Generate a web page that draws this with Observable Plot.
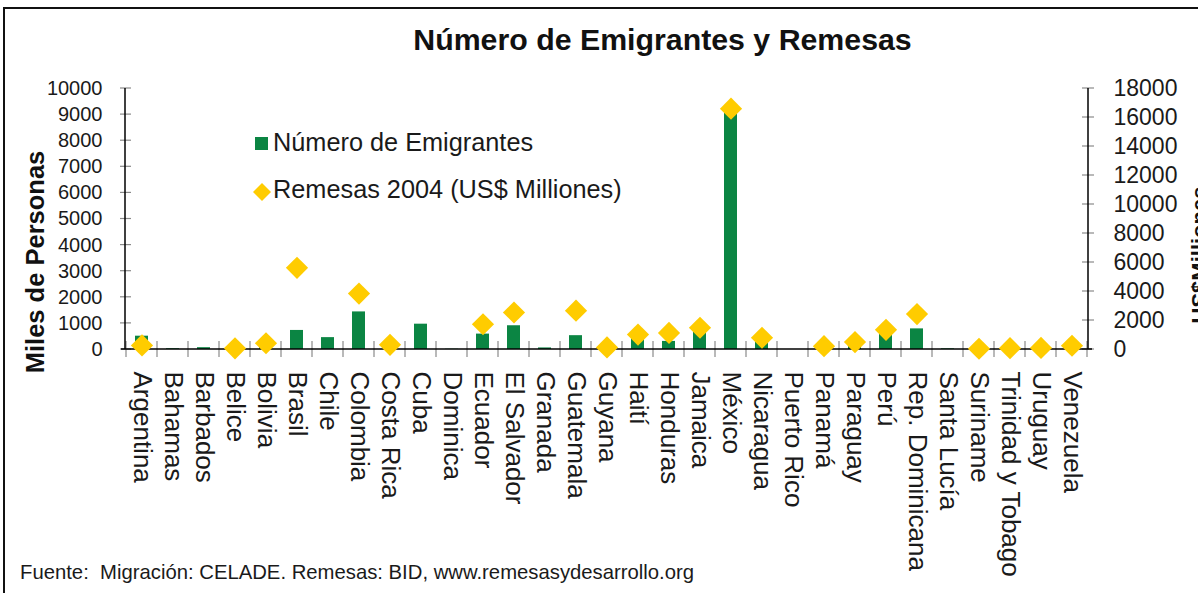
<!DOCTYPE html>
<html>
<head>
<meta charset="utf-8">
<script src="https://cdn.jsdelivr.net/npm/d3@7"></script>
<script src="https://cdn.jsdelivr.net/npm/@observablehq/plot@0.6"></script>
<style>
  html, body { margin: 0; padding: 0; background: #fff; }
  #wrap { position: relative; width: 1198px; height: 593px; overflow: hidden; background: #fff;
          font-family: "Liberation Sans", Arial, sans-serif; color: #1a1a1a; }
  #frame { position: absolute; left: 3px; top: 7px; width: 1400px; height: 800px;
           border-left: 2px solid #111; border-top: 2px solid #111; }
  #chart { position: absolute; left: 0; top: 0; }
  .abs { position: absolute; white-space: nowrap; line-height: 1; }
  #title { left: 0; width: 1325px; top: 25px; text-align: center; font-weight: bold; font-size: 30.3px; color: #111; }
  .leg { font-size: 25.3px; }
  .rot { position: absolute; width: 0; height: 0; }
  .rot span { position: absolute; left: 0; top: 0; white-space: nowrap; line-height: 1;
              transform: translate(-50%, -50%) rotate(-90deg); font-weight: bold; color: #111; }
  #caption { left: 20px; top: 562px; font-size: 20.3px; }
</style>
</head>
<body>
<div id="wrap">
  <div id="chart"></div>
  <div id="frame"></div>
  <div id="title" class="abs">Número de Emigrantes y Remesas</div>
  <div class="abs" style="left:255px;top:137px;width:13px;height:13px;background:#0b8543;"></div>
  <div class="abs leg" style="left:273px;top:130px;">Número de Emigrantes</div>
  <svg class="abs" style="left:251px;top:181px;" width="22" height="22"><path d="M11,2L20,11L11,20L2,11Z" fill="#ffcc00"/></svg>
  <div class="abs leg" style="left:273px;top:177px;">Remesas 2004 (US$ Milliones)</div>
  <div class="rot" style="left:36px;top:262px;"><span style="font-size:25.5px;">Miles de Personas</span></div>
  <div class="rot" style="left:1200px;top:255px;"><span style="font-size:22px;">US$Milliones</span></div>
  <div id="caption" class="abs">Fuente:&nbsp; Migración: CELADE. Remesas: BID, www.remesasydesarrollo.org</div>
</div>
<script>
// ---- data ----
const countries = ["Argentina","Bahamas","Barbados","Belice","Bolivia","Brasil","Chile","Colombia","Costa Rica","Cuba",
  "Dominica","Ecuador","El Salvador","Granada","Guatemala","Guyana","Haití","Honduras","Jamaica","México",
  "Nicaragua","Puerto Rico","Panamá","Paraguay","Perú","Rep. Dominicana","Santa Lucía","Suriname","Trinidad y Tobago","Uruguay","Venezuela"];
// Número de Emigrantes (miles de personas)
const emigrants = [510, 30, 70, 40, 350, 730, 455, 1440, 85, 970,
  10, 590, 910, 60, 530, 60, 530, 310, 680, 9200,
  480, null, 120, 360, 630, 790, 25, 40, 70, 100, 150];
// Remesas 2004 (US$ millones)
const remittances = [280, null, null, 80, 430, 5630, null, 3860, 320, null,
  null, 1740, 2550, null, 2680, 140, 1030, 1140, 1500, 16610,
  810, null, 230, 510, 1360, 2440, null, 50, 90, 110, 260];
const leftTicks = [0,1000,2000,3000,4000,5000,6000,7000,8000,9000,10000];
const rightTicks = [0,2000,4000,6000,8000,10000,12000,14000,16000,18000];
const leftMax = 10000, rightMax = 18000;
const ratio = leftMax / rightMax;

const rows = countries.map((c, i) => ({country: c, emi: emigrants[i], rem: remittances[i]}));

function axesMark(index, scales, values, dims) {
  const x = scales.x, y = scales.y;
  const g = d3.create("svg:g");
  const x0 = dims.marginLeft, x1 = dims.width - dims.marginRight;
  const yb = y(0), yt = y(leftMax);
  const step = x.step ? x.step() : (x1 - x0) / countries.length;
  const bw = x.bandwidth ? x.bandwidth() : step * 0.42;
  const tickC = "#8a8a8a";
  const bounds = countries.map(c => x(c) + bw / 2 - step / 2);
  bounds.push(x(countries[countries.length - 1]) + bw / 2 + step / 2);
  for (const b of bounds) {
    g.append("line").attr("x1", b).attr("x2", b).attr("y1", yb - 8).attr("y2", yb + 8)
      .attr("stroke", tickC).attr("stroke-width", 1.2);
  }
  for (const v of leftTicks) {
    g.append("line").attr("x1", x0 - 5).attr("x2", x0 + 6).attr("y1", y(v)).attr("y2", y(v))
      .attr("stroke", tickC).attr("stroke-width", 1.2);
  }
  for (const v of rightTicks) {
    const yy = y(v * ratio);
    g.append("line").attr("x1", x1 - 6).attr("x2", x1 + 6).attr("y1", yy).attr("y2", yy)
      .attr("stroke", tickC).attr("stroke-width", 1.2);
  }
  g.append("line").attr("x1", x0).attr("x2", x0).attr("y1", yt).attr("y2", yb).attr("stroke", "#000").attr("stroke-width", 1.5);
  g.append("line").attr("x1", x1).attr("x2", x1).attr("y1", yt).attr("y2", yb).attr("stroke", "#000").attr("stroke-width", 1.5);
  g.append("line").attr("x1", x0 - 4).attr("x2", x1 + 4).attr("y1", yb).attr("y2", yb).attr("stroke", "#000").attr("stroke-width", 1.5);
  return g.node();
}

const chart = Plot.plot({
  width: 1198,
  height: 593,
  marginLeft: 125,
  marginRight: 110,
  marginTop: 88,
  marginBottom: 244,
  style: {fontFamily: "'Liberation Sans', Arial, sans-serif", background: "transparent", color: "#1a1a1a", overflow: "visible"},
  x: {domain: countries, paddingInner: 0.58, paddingOuter: 0.29},
  y: {domain: [0, leftMax]},
  marks: [
    Plot.barY(rows.filter(d => d.emi != null), {x: "country", y: "emi", fill: "#0b8543"}),
    axesMark,
    Plot.dot(rows.filter(d => d.rem != null), {x: "country", y: d => d.rem * ratio, symbol: "diamond2", r: 10, fill: "#ffcc00", stroke: "none"}),
    Plot.axisY(leftTicks, {anchor: "left", tickSize: 0, tickPadding: 23, fontSize: 20, label: null, fill: "#1a1a1a",
      tickFormat: d => String(d)}),
    Plot.axisY(rightTicks.map(v => v * ratio), {anchor: "right", tickSize: 0, tickPadding: 25, fontSize: 23, label: null, fill: "#1a1a1a",
      tickFormat: d => String(Math.round(d / ratio))}),
    Plot.axisX({tickSize: 0, tickRotate: 90, tickPadding: 22, fontSize: 26, label: null, fill: "#1a1a1a"})
  ]
});
document.getElementById("chart").appendChild(chart);
</script>
</body>
</html>
